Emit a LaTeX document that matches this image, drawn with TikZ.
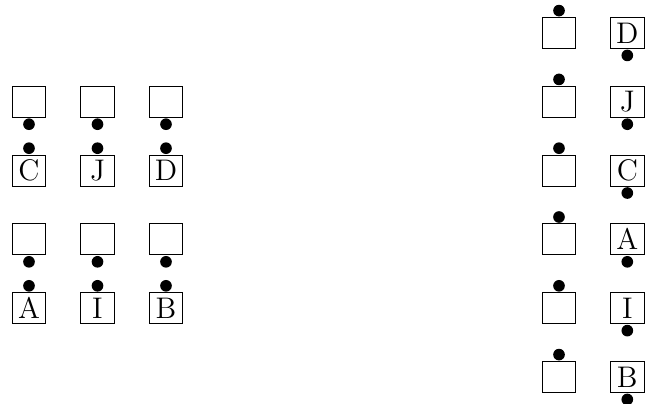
\documentclass[tikz,border=0pt]{standalone}
\begin{document}
\begin{tikzpicture}[x=0.386pt,y=-0.386pt,
  cell/.style={draw,line width=0.4pt,minimum width=12.9pt,minimum height=12pt,inner sep=0pt,
    font=\fontsize{11.5}{13}\selectfont,text height=7.85pt,text depth=0pt},
  dotn/.style={circle,fill=black,inner sep=0pt,minimum size=4.5pt}]
\useasboundingbox (0,0) rectangle (645,403);
% left block
\foreach \c/\x [count=\i] in {1/29,2/97.5,3/166}{
  \node[cell] (ea\i) at (\x,101.8) {};
  \node[dotn,anchor=north] (dea\i) at (ea\i.south) {};
  \node[cell] (eb\i) at (\x,239.4) {};
  \node[dotn,anchor=north] (deb\i) at (eb\i.south) {};
}
\node[cell] (lC) at (29,170.6) {C};
\node[cell] (lJ) at (97.5,170.6) {J};
\node[cell] (lD) at (166,170.6) {D};
\node[cell] (lA) at (29,308.2) {A};
\node[cell] (lI) at (97.5,308.2) {I};
\node[cell] (lB) at (166,308.2) {B};
\foreach \n in {lC,lJ,lD,lA,lI,lB}{
  \node[dotn,anchor=south] (d\n) at (\n.north) {};
}
% right block
\foreach \L/\y [count=\i] in {D/33,J/101.8,C/170.6,A/239.4,I/308.2,B/377}{
  \node[cell] (re\i) at (559,\y) {};
  \node[dotn,anchor=south] (dre\i) at (re\i.north) {};
  \node[cell] (rl\i) at (627.3,\y) {\L};
  \node[dotn,anchor=north] (drl\i) at (rl\i.south) {};
}
\end{tikzpicture}
\end{document}
